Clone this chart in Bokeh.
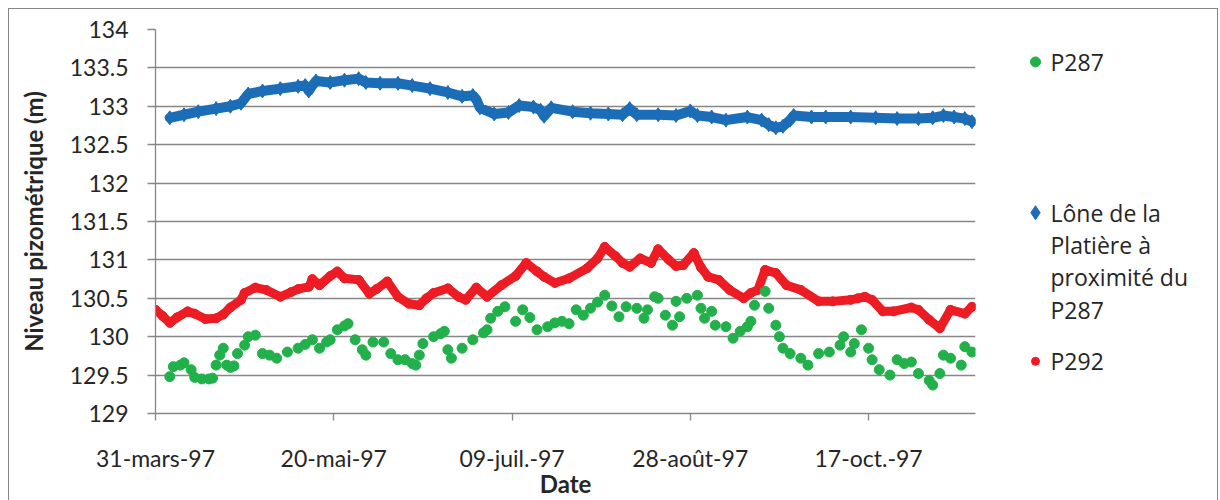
import textwrap
import pandas as pd
from bokeh.plotting import figure
from bokeh.layouts import row
from bokeh.models import Range1d, FixedTicker, CustomJSTickFormatter, ColumnDataSource
from bokeh.embed import file_html
from bokeh.resources import INLINE
from bokeh.core.properties import value

# ---------------- data ----------------
start_date = "1997-03-31"
end_date = "1997-11-16"

tick_dates = ["1997-03-31", "1997-05-20", "1997-07-09", "1997-08-28", "1997-10-17"]
tick_labels = ["31-mars-97", "20-mai-97", "09-juil.-97", "28-août-97", "17-oct.-97"]
y_ticks = [129, 129.5, 130, 130.5, 131, 131.5, 132, 132.5, 133, 133.5, 134]

series_names = ["P287", "Lône de la Platière à proximité du P287", "P292"]
x_title = "Date"
y_title = "Niveau pizométrique (m)"

p287_dates = [
    "1997-04-04", "1997-04-05", "1997-04-07", "1997-04-08", "1997-04-10", "1997-04-11",
    "1997-04-13", "1997-04-15", "1997-04-16", "1997-04-17", "1997-04-18", "1997-04-19",
    "1997-04-20", "1997-04-21", "1997-04-22", "1997-04-23", "1997-04-25", "1997-04-26",
    "1997-04-28", "1997-04-30", "1997-05-02", "1997-05-04", "1997-05-07", "1997-05-10",
    "1997-05-12", "1997-05-14", "1997-05-16", "1997-05-18", "1997-05-19", "1997-05-21",
    "1997-05-23", "1997-05-24", "1997-05-26", "1997-05-28", "1997-05-29", "1997-05-31",
    "1997-06-03", "1997-06-05", "1997-06-07", "1997-06-09", "1997-06-11", "1997-06-12",
    "1997-06-13", "1997-06-14", "1997-06-17", "1997-06-19", "1997-06-20", "1997-06-21",
    "1997-06-22", "1997-06-25", "1997-06-28", "1997-07-01", "1997-07-02", "1997-07-03",
    "1997-07-05", "1997-07-07", "1997-07-10", "1997-07-12", "1997-07-14", "1997-07-16",
    "1997-07-19", "1997-07-21", "1997-07-23", "1997-07-25", "1997-07-27", "1997-07-29",
    "1997-07-31", "1997-08-02", "1997-08-04", "1997-08-06", "1997-08-08", "1997-08-10",
    "1997-08-13", "1997-08-15", "1997-08-16", "1997-08-18", "1997-08-19", "1997-08-21",
    "1997-08-23", "1997-08-24", "1997-08-25", "1997-08-27", "1997-08-30", "1997-08-31",
    "1997-09-01", "1997-09-03", "1997-09-04", "1997-09-07", "1997-09-09", "1997-09-11",
    "1997-09-13", "1997-09-14", "1997-09-15", "1997-09-18", "1997-09-19", "1997-09-21",
    "1997-09-22", "1997-09-23", "1997-09-25", "1997-09-28", "1997-09-30", "1997-10-03",
    "1997-10-06", "1997-10-09", "1997-10-10", "1997-10-12", "1997-10-13", "1997-10-15",
    "1997-10-17", "1997-10-18", "1997-10-20", "1997-10-23", "1997-10-25", "1997-10-27",
    "1997-10-29", "1997-10-31", "1997-11-03", "1997-11-04", "1997-11-06", "1997-11-07",
    "1997-11-09", "1997-11-12", "1997-11-13", "1997-11-15",
]
p287_values = [
    129.48, 129.61, 129.63, 129.66, 129.57, 129.47,
    129.45, 129.45, 129.46, 129.63, 129.76, 129.85,
    129.63, 129.60, 129.62, 129.78, 129.89, 130.00,
    130.02, 129.78, 129.76, 129.72, 129.80, 129.85,
    129.90, 129.96, 129.85, 129.93, 129.96, 130.09,
    130.14, 130.17, 129.96, 129.83, 129.76, 129.93,
    129.93, 129.78, 129.70, 129.70, 129.65, 129.63,
    129.76, 129.91, 130.00, 130.04, 130.07, 129.83,
    129.72, 129.85, 129.96, 130.05, 130.09, 130.24,
    130.33, 130.39, 130.20, 130.35, 130.25, 130.09,
    130.13, 130.18, 130.20, 130.17, 130.35, 130.28,
    130.37, 130.45, 130.54, 130.40, 130.26, 130.39,
    130.37, 130.24, 130.35, 130.52, 130.50, 130.28,
    130.15, 130.46, 130.26, 130.50, 130.54, 130.37,
    130.24, 130.33, 130.15, 130.13, 129.98, 130.07,
    130.13, 130.20, 130.41, 130.59, 130.37, 130.15,
    130.00, 129.85, 129.78, 129.72, 129.63, 129.78,
    129.80, 129.89, 130.00, 129.80, 129.91, 130.09,
    129.85, 129.70, 129.57, 129.50, 129.70, 129.65,
    129.67, 129.52, 129.43, 129.37, 129.52, 129.76,
    129.72, 129.63, 129.87, 129.80,
]

lone_dates = [
    "1997-04-04", "1997-04-08", "1997-04-12", "1997-04-17", "1997-04-21", "1997-04-24",
    "1997-04-26", "1997-04-30", "1997-05-05", "1997-05-10", "1997-05-12", "1997-05-13",
    "1997-05-14", "1997-05-15", "1997-05-19", "1997-05-23", "1997-05-27", "1997-05-29",
    "1997-06-02", "1997-06-07", "1997-06-11", "1997-06-16", "1997-06-21", "1997-06-25",
    "1997-06-28", "1997-06-29", "1997-06-30", "1997-07-04", "1997-07-08", "1997-07-11",
    "1997-07-15", "1997-07-17", "1997-07-18", "1997-07-20", "1997-07-26", "1997-07-31",
    "1997-08-05", "1997-08-09", "1997-08-11", "1997-08-13", "1997-08-19", "1997-08-24",
    "1997-08-28", "1997-08-30", "1997-09-03", "1997-09-07", "1997-09-13", "1997-09-17",
    "1997-09-19", "1997-09-21", "1997-09-23", "1997-09-25", "1997-09-26", "1997-10-01",
    "1997-10-05", "1997-10-12", "1997-10-19", "1997-10-25", "1997-10-31", "1997-11-04",
    "1997-11-07", "1997-11-10", "1997-11-13", "1997-11-15",
]
lone_values = [
    132.85, 132.89, 132.93, 132.97, 133.00, 133.04,
    133.16, 133.20, 133.23, 133.26, 133.27, 133.20,
    133.27, 133.33, 133.31, 133.34, 133.36, 133.31,
    133.30, 133.30, 133.27, 133.23, 133.18, 133.13,
    133.14, 133.09, 132.98, 132.90, 132.92, 133.01,
    132.99, 132.95, 132.87, 132.98, 132.93, 132.91,
    132.90, 132.89, 132.97, 132.89, 132.89, 132.88,
    132.94, 132.88, 132.86, 132.82, 132.86, 132.82,
    132.76, 132.72, 132.74, 132.82, 132.88, 132.86,
    132.86, 132.86, 132.85, 132.84, 132.84, 132.85,
    132.88, 132.86, 132.84, 132.80,
]

p292_dates = [
    "1997-03-31", "1997-04-02", "1997-04-04", "1997-04-06", "1997-04-09", "1997-04-11",
    "1997-04-14", "1997-04-17", "1997-04-19", "1997-04-21", "1997-04-24", "1997-04-25",
    "1997-04-28", "1997-05-01", "1997-05-05", "1997-05-08", "1997-05-10", "1997-05-13",
    "1997-05-14", "1997-05-16", "1997-05-19", "1997-05-21", "1997-05-23", "1997-05-27",
    "1997-05-30", "1997-06-01", "1997-06-04", "1997-06-07", "1997-06-10", "1997-06-13",
    "1997-06-15", "1997-06-17", "1997-06-21", "1997-06-24", "1997-06-26", "1997-06-29",
    "1997-07-02", "1997-07-06", "1997-07-10", "1997-07-13", "1997-07-16", "1997-07-18",
    "1997-07-21", "1997-07-25", "1997-07-30", "1997-08-02", "1997-08-04", "1997-08-07",
    "1997-08-09", "1997-08-11", "1997-08-14", "1997-08-17", "1997-08-19", "1997-08-22",
    "1997-08-24", "1997-08-26", "1997-08-29", "1997-08-31", "1997-09-02", "1997-09-05",
    "1997-09-08", "1997-09-12", "1997-09-14", "1997-09-16", "1997-09-18", "1997-09-21",
    "1997-09-24", "1997-09-28", "1997-10-03", "1997-10-07", "1997-10-12", "1997-10-14",
    "1997-10-16", "1997-10-18", "1997-10-21", "1997-10-24", "1997-10-29", "1997-10-31",
    "1997-11-03", "1997-11-06", "1997-11-09", "1997-11-13", "1997-11-15",
]
p292_values = [
    130.35, 130.27, 130.18, 130.25, 130.33, 130.30,
    130.23, 130.24, 130.29, 130.38, 130.48, 130.57,
    130.64, 130.61, 130.52, 130.58, 130.62, 130.65,
    130.75, 130.67, 130.79, 130.85, 130.76, 130.74,
    130.56, 130.62, 130.72, 130.52, 130.43, 130.41,
    130.50, 130.57, 130.63, 130.52, 130.48, 130.64,
    130.52, 130.67, 130.79, 130.96, 130.85, 130.78,
    130.70, 130.76, 130.89, 131.02, 131.17, 131.05,
    130.96, 130.91, 131.02, 130.96, 131.14, 131.00,
    130.92, 130.93, 131.09, 130.90, 130.78, 130.74,
    130.61, 130.50, 130.57, 130.61, 130.87, 130.83,
    130.67, 130.61, 130.46, 130.46, 130.48, 130.50,
    130.52, 130.48, 130.33, 130.33, 130.38, 130.35,
    130.22, 130.11, 130.35, 130.30, 130.39,
]

# ---------------- styling ----------------
GREEN = "#22B04B"
BLUE = "#1C6DB7"
RED = "#ED1C24"
GRID = "#878787"
TEXT = "#262626"
TICK_FONT = "Lato"
LEGEND_FONT = "Open Sans"

FIG_H = 491
BORDER_TOP = 20
BORDER_BOTTOM = 86

origin = pd.Timestamp(start_date)


def to_days(dates):
    return [(pd.Timestamp(d) - origin).days for d in dates]


x_max = to_days([end_date])[0]
tick_days = to_days(tick_dates)

src_p287 = ColumnDataSource(dict(x=to_days(p287_dates), y=p287_values))
src_lone = ColumnDataSource(dict(x=to_days(lone_dates), y=lone_values))
src_p292 = ColumnDataSource(dict(x=to_days(p292_dates), y=p292_values))

p = figure(
    width=991, height=FIG_H,
    x_range=Range1d(0, x_max), y_range=Range1d(y_ticks[0], y_ticks[-1]),
    output_backend="svg", toolbar_location=None,
    min_border_left=146, min_border_right=25,
    min_border_top=BORDER_TOP, min_border_bottom=BORDER_BOTTOM,
)
p.outline_line_color = None
p.background_fill_color = "white"
p.border_fill_color = "white"

# axes
p.xaxis.ticker = FixedTicker(ticks=tick_days)
p.xaxis.formatter = CustomJSTickFormatter(
    args=dict(tick_list=tick_days, label_list=tick_labels),
    code="const i = tick_list.indexOf(Math.round(tick)); return i >= 0 ? label_list[i] : '';",
)
p.yaxis.ticker = FixedTicker(ticks=y_ticks)
p.yaxis.formatter = CustomJSTickFormatter(code="return String(Math.round(tick * 10) / 10);")

for ax in (p.xaxis[0], p.yaxis[0]):
    ax.axis_line_color = GRID
    ax.axis_line_width = 1.3
    ax.major_tick_line_color = GRID
    ax.major_tick_line_width = 1.3
    ax.major_tick_in = 0
    ax.minor_tick_line_color = None
    ax.major_label_text_font = TICK_FONT
    ax.major_label_text_font_size = "23px"
    ax.major_label_text_color = TEXT
    ax.axis_label_text_font = TICK_FONT
    ax.axis_label_text_font_size = "24px"
    ax.axis_label_text_font_style = "bold"
    ax.axis_label_text_color = TEXT

p.xaxis.major_tick_out = 7
p.xaxis.major_label_standoff = 23
p.xaxis.axis_label = x_title
p.xaxis.axis_label_standoff = -6

p.yaxis.major_tick_out = 8
p.yaxis.major_label_standoff = 19
p.yaxis.axis_label = y_title
p.yaxis.axis_label_standoff = 19

p.xgrid.grid_line_color = None
p.ygrid.grid_line_color = GRID
p.ygrid.grid_line_width = 1.3
p.ygrid.ticker = FixedTicker(ticks=y_ticks)

# series
p.line("x", "y", source=src_lone, line_color=BLUE, line_width=10, line_join="round", line_cap="round")
p.scatter("x", "y", source=src_lone, marker="diamond", size=14, fill_color=BLUE, line_color=BLUE)

p.line("x", "y", source=src_p292, line_color=RED, line_width=9, line_join="round", line_cap="round")
p.scatter("x", "y", source=src_p292, marker="circle", size=9, fill_color=RED, line_color=RED)

p.scatter("x", "y", source=src_p287, marker="circle", size=10, fill_color=GREEN, line_color=GREEN)

# ---------------- legend panel ----------------
# y range in figure pixels (from the top of the figure) so the frame maps 1:1
leg = figure(
    width=217, height=FIG_H,
    x_range=Range1d(0, 217), y_range=Range1d(FIG_H - BORDER_BOTTOM, BORDER_TOP),
    output_backend="svg", toolbar_location=None,
    x_axis_location=None, y_axis_location=None,
    min_border_left=0, min_border_right=0,
    min_border_top=BORDER_TOP, min_border_bottom=BORDER_BOTTOM,
)
leg.outline_line_color = None
leg.grid.visible = False
leg.background_fill_color = "white"
leg.border_fill_color = "white"

lone_lines = textwrap.wrap(series_names[1], width=12)
sw_x = 35
tx_x = 50
y_p287 = 52.5
y_lone = 203.7
line_step = 32.4
y_p292 = 352.7

leg.scatter([sw_x], [y_p287], marker="circle", size=10, fill_color=GREEN, line_color=GREEN)
leg.scatter([sw_x], [y_lone], marker="diamond", size=14, fill_color=BLUE, line_color=BLUE)
leg.scatter([sw_x], [y_p292], marker="circle", size=8, fill_color=RED, line_color=RED)

leg_text = [series_names[0]] + lone_lines + [series_names[2]]
leg_y = [y_p287] + [y_lone + i * line_step for i in range(len(lone_lines))] + [y_p292]
leg.text(
    x=[tx_x] * len(leg_text), y=leg_y, text=leg_text,
    text_font=value(LEGEND_FONT), text_font_size="23px", text_color=TEXT,
    text_align="left", text_baseline="middle",
)

layout = row(p, leg)
layout.styles = {
    "margin-left": "8px",
    "margin-top": "8px",
    "border-top": "1px solid #868686",
    "border-left": "1px solid #868686",
    "border-right": "1px solid #868686",
}

open("out.html", "w").write(file_html(layout, INLINE))
